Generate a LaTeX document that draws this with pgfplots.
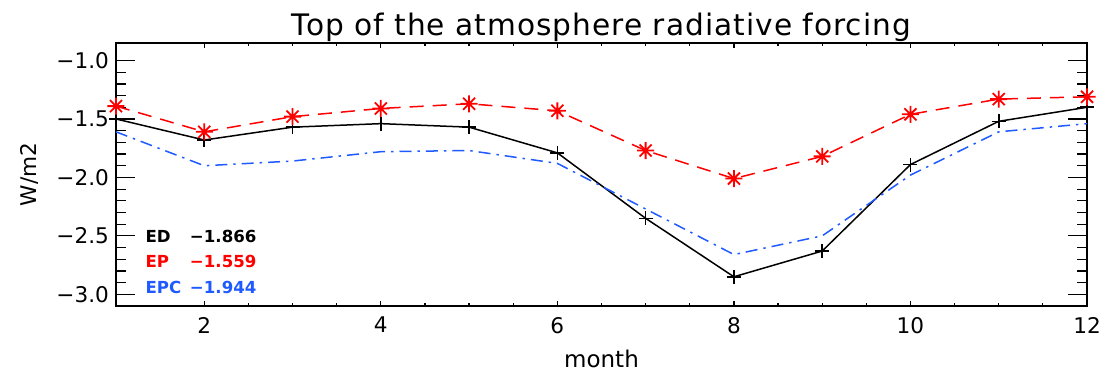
\documentclass[border=0pt]{standalone}
\usepackage{pgfplots}
\pgfplotsset{compat=1.18}
\usepackage{fontspec}
\setmainfont{DejaVu Sans}

\definecolor{idlred}{RGB}{255,0,0}
\definecolor{idlblue}{RGB}{30,90,255}

\pgfdeclareplotmark{star8}{%
  \pgfpathmoveto{\pgfqpoint{-\pgfplotmarksize}{0pt}}%
  \pgfpathlineto{\pgfqpoint{\pgfplotmarksize}{0pt}}%
  \pgfpathmoveto{\pgfqpoint{0pt}{-\pgfplotmarksize}}%
  \pgfpathlineto{\pgfqpoint{0pt}{\pgfplotmarksize}}%
  \pgfpathmoveto{\pgfqpoint{-0.707\pgfplotmarksize}{-0.707\pgfplotmarksize}}%
  \pgfpathlineto{\pgfqpoint{0.707\pgfplotmarksize}{0.707\pgfplotmarksize}}%
  \pgfpathmoveto{\pgfqpoint{-0.707\pgfplotmarksize}{0.707\pgfplotmarksize}}%
  \pgfpathlineto{\pgfqpoint{0.707\pgfplotmarksize}{-0.707\pgfplotmarksize}}%
  \pgfusepathqstroke
}

\pgfplotstableread{
month ED EP EPC
1  -1.50 -1.39 -1.61
2  -1.68 -1.61 -1.90
3  -1.57 -1.48 -1.86
4  -1.54 -1.41 -1.78
5  -1.57 -1.37 -1.77
6  -1.79 -1.43 -1.88
7  -2.35 -1.77 -2.27
8  -2.85 -2.01 -2.66
9  -2.63 -1.82 -2.50
10 -1.89 -1.46 -1.98
11 -1.52 -1.33 -1.61
12 -1.40 -1.31 -1.54
}\datatable

\begin{document}
\begin{tikzpicture}
\useasboundingbox (-58pt,-33.5pt) rectangle (493pt,153pt);
% axis for y ticks (long)
\begin{axis}[
  at={(0,0)}, anchor=south west,
  scale only axis, width=485.5pt, height=131.5pt,
  xmin=1, xmax=12, ymin=-3.1, ymax=-0.85,
  xtick=\empty,
  ytick={-3,-2.5,-2,-1.5,-1},
  yticklabels={−3.0,−2.5,−2.0,−1.5,−1.0},
  minor y tick num=4,
  tick align=inside,
  major tick length=9.7pt, minor tick length=4.85pt,
  ytick pos=both,
  axis line style={line width=0.7pt},
  every tick/.style={black, line width=0.6pt},
  yticklabel style={font=\fontsize{10.8}{12}\selectfont},
  ylabel={W/m2},
  ylabel style={at={(axis description cs:-0.0886,0.5)}, anchor=center, font=\fontsize{10.8}{12}\selectfont},
]
\end{axis}
% main axis with x ticks (short) and data
\begin{axis}[
  at={(0,0)}, anchor=south west,
  scale only axis, width=485.5pt, height=131.5pt,
  xmin=1, xmax=12, ymin=-3.1, ymax=-0.85,
  xtick={2,4,6,8,10,12},
  xticklabels={2,4,6,8,10,12},
  minor x tick num=3,
  ytick=\empty,
  tick align=inside,
  major tick length=2.65pt, minor tick length=1.3pt,
  xtick pos=both,
  axis line style={line width=0.7pt},
  every tick/.style={black, line width=0.6pt},
  xticklabel style={font=\fontsize{10.8}{12}\selectfont, yshift=-2pt},
  xlabel={month},
  xlabel style={at={(axis description cs:0.5,-0.2)}, anchor=center, font=\fontsize{11.5}{13}\selectfont},
  clip=false,
]
\addplot[black, line width=0.75pt, mark=+, mark size=3.5pt, mark options={line width=0.8pt}]
  table[x=month, y=ED] {\datatable};
\addplot[idlred, line width=0.75pt, dash pattern=on 7pt off 4.5pt, mark=star8, mark size=4.25pt, mark options={solid, line width=0.9pt}]
  table[x=month, y=EP] {\datatable};
\addplot[idlblue, line width=0.75pt, dash pattern=on 6pt off 3pt on 1.2pt off 3pt]
  table[x=month, y=EPC] {\datatable};

\node[anchor=base, inner sep=0pt, font=\fontsize{14.8}{16}\selectfont\addfontfeatures{LetterSpace=3.5}]
  at (axis description cs:0.5,1) [yshift=3.5pt] {Top of the atmosphere radiative forcing};

\node[anchor=west, font=\bfseries\fontsize{8.3}{10}\selectfont, text=black, inner sep=0pt] at (axis description cs:0.030,0.266) {ED};
\node[anchor=east, font=\bfseries\fontsize{8.3}{10}\selectfont, text=black, inner sep=0pt] at (axis description cs:0.145,0.266) {−1.866};
\node[anchor=west, font=\bfseries\fontsize{8.3}{10}\selectfont, text=idlred, inner sep=0pt] at (axis description cs:0.030,0.171) {EP};
\node[anchor=east, font=\bfseries\fontsize{8.3}{10}\selectfont, text=idlred, inner sep=0pt] at (axis description cs:0.145,0.171) {−1.559};
\node[anchor=west, font=\bfseries\fontsize{8.3}{10}\selectfont, text=idlblue, inner sep=0pt] at (axis description cs:0.030,0.072) {EPC};
\node[anchor=east, font=\bfseries\fontsize{8.3}{10}\selectfont, text=idlblue, inner sep=0pt] at (axis description cs:0.145,0.072) {−1.944};
\end{axis}
\end{tikzpicture}
\end{document}
